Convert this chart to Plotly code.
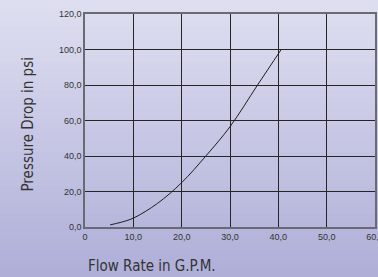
import plotly.graph_objects as go

flow_gpm = [5.2, 7.5, 10.0, 15.0, 20.0, 25.0, 30.0, 35.7, 40.6]
pressure_psi = [1.2, 2.7, 5.0, 13.3, 25.0, 40.0, 56.5, 80.0, 100.0]

x_ticks = [0, 10, 20, 30, 40, 50, 60]
x_tick_labels = ["0", "10,0", "20,0", "30,0", "40,0", "50,0", "60,0"]
y_ticks = [0, 20, 40, 60, 80, 100, 120]
y_tick_labels = ["0,0", "20,0", "40,0", "60,0", "80,0", "100,0", "120,0"]

x_title = "Flow Rate in G.P.M."
y_title = "Pressure Drop in psi"

W, H = 378, 277
ml, mr, mt, mb = 85, 3, 14, 50
ph = H - mt - mb
pw = W - ml - mr

fig = go.Figure()
fig.add_trace(go.Scatter(
    x=flow_gpm, y=pressure_psi, mode="lines",
    line=dict(color="#1e1e1e", width=1, shape="spline", smoothing=1.0),
    hoverinfo="skip", showlegend=False,
))

# vertical gradient background
shapes = []
n = 40
top = (223, 223, 241)
bot = (174, 174, 216)
y_top = 1 + mt / ph
y_bot = -mb / ph
for i in range(n):
    t = (i + 0.5) / n
    c = tuple(round(top[k] + (bot[k] - top[k]) * t) for k in range(3))
    y1 = y_top - (y_top - y_bot) * i / n
    y0 = y_top - (y_top - y_bot) * (i + 1) / n
    shapes.append(dict(type="rect", xref="paper", yref="paper",
                       x0=-1, x1=2, y0=y0 - 0.002, y1=y1 + 0.002,
                       fillcolor="rgb(%d,%d,%d)" % c, line=dict(width=0),
                       layer="below"))

axis_common = dict(
    showgrid=True, gridcolor="#262626", gridwidth=1,
    showline=True, linecolor="#6a6a72", linewidth=1.5, mirror=True,
    zeroline=False, ticks="", automargin=False, ticklabeloverflow="allow",
    tickfont=dict(family="Liberation Sans, Arial", size=9, color="#333333"),
)

title_font = dict(family="Liberation Sans Narrow, DejaVu Sans Condensed, sans-serif",
                  size=15, color="#333333")

fig.update_layout(
    width=W, height=H,
    margin=dict(l=ml, r=mr, t=mt, b=mb),
    paper_bgcolor="rgba(0,0,0,0)",
    plot_bgcolor="rgba(0,0,0,0)",
    shapes=shapes,
    xaxis=dict(range=[0, 60], tickvals=x_ticks, ticktext=x_tick_labels, **axis_common),
    yaxis=dict(range=[0, 120], tickvals=y_ticks, ticktext=y_tick_labels, **axis_common),
    annotations=[
        dict(text=x_title, xref="paper", yref="paper",
             x=(86 - ml) / pw, y=-(266 - mt - ph) / ph,
             xanchor="left", yanchor="middle", showarrow=False, font=title_font),
        dict(text=y_title, xref="paper", yref="paper",
             x=-(ml - 27) / pw, y=(mt + ph - 124.5) / ph,
             xanchor="center", yanchor="middle", textangle=-90,
             showarrow=False, font=title_font),
    ],
)

fig.write_html("out.html", config={"displayModeBar": False},
               post_script="document.body.style.margin='0';document.body.style.background='rgb(200,200,228)';")
